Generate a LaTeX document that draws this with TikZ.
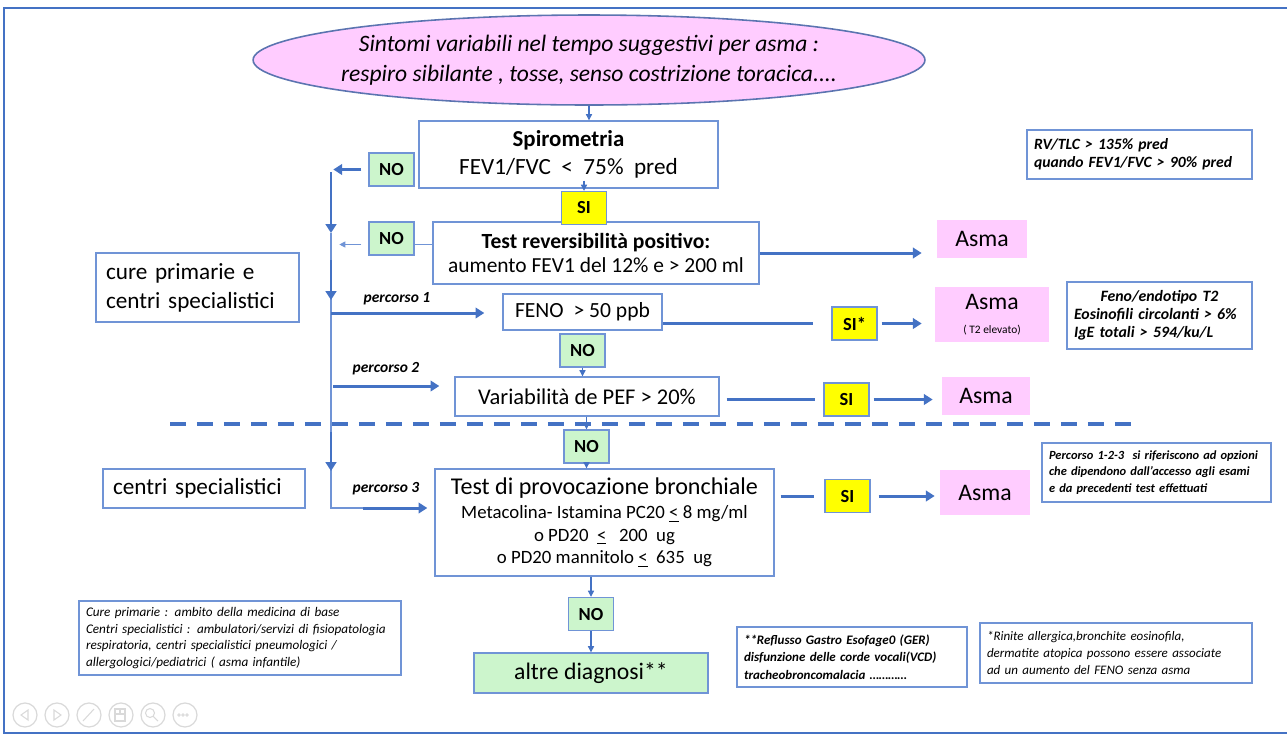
\documentclass[tikz,border=0pt]{standalone}
\usepackage{fontspec}
\setmainfont{Carlito}
\usetikzlibrary{arrows.meta,shapes.geometric,positioning}
\definecolor{lineblue}{HTML}{4472C4}
\definecolor{boxblue}{HTML}{7094D6}
\definecolor{ellblue}{HTML}{5B74B0}
\definecolor{nogreen}{HTML}{CCF5CC}
\definecolor{siyellow}{HTML}{FFFF00}
\definecolor{asmapink}{HTML}{FFCCFF}
\definecolor{icongray}{HTML}{D9D9D9}

\begin{document}
\begin{tikzpicture}[x=0.02cm, y=-0.02cm,
            box/.style={
                draw=boxblue, line width=0.8pt, fill=white, inner sep=0pt, align=center
            },
            smallbox/.style={
                box, minimum width=0.9cm, minimum height=0.66cm,
                font=\fontsize{10.5}{12}\selectfont\bfseries
            },
            nobox/.style={smallbox, fill=nogreen},
            sibox/.style={smallbox, fill=siyellow},
            asmabox/.style={
                fill=asmapink, inner sep=0pt, align=center,
                font=\fontsize{13.5}{16}\selectfont
            },
            sidebox/.style={
                box, align=left, inner xsep=0.2cm, font=\fontsize{13.2}{16.4}\selectfont
            },
            notebox/.style={
                box, align=left, inner xsep=0.14cm, font=\fontsize{7.5}{9.6}\selectfont\itshape
            },
            pathlabel/.style={font=\fontsize{8.8}{10}\selectfont\bfseries\itshape},
            bigarrow/.style={draw=lineblue, line width=1.7pt, -{Triangle[length=5pt,width=6pt]}},
            bigline/.style={draw=lineblue, line width=1.7pt},
            smallarrow/.style={draw=lineblue, line width=0.6pt, -{Triangle[length=3.5pt,width=3.5pt]}},
            railline/.style={draw=boxblue, line width=0.6pt}
            ]

            \pgfmathsetmacro{\railx}{331}

            \useasboundingbox (0,0) rectangle (1287,735);

            % slide frame
            \draw[lineblue, line width=1.6pt] (1287,8) -- (4,8) -- (4,733) -- (1287,733);

            \foreach \i in {0,...,5} {
                \draw[icongray, line width=0.7pt] (25+32*\i,715) circle (12);
            }
            \draw[icongray, line width=0.6pt] (28,710) -- (21,715) -- (28,720) -- cycle;
            \draw[icongray, line width=0.6pt] (54,710) -- (61,715) -- (54,720) -- cycle;
            \draw[icongray, line width=0.6pt] (83,721) -- (94,709);
            \draw[icongray, line width=0.6pt] (115,709) rectangle (125,721) (115,714) -- (125,714) (120,709) -- (120,714);
            \draw[icongray, line width=0.6pt] (150,713) circle (4.5) (153,716) -- (158,721);
            \foreach \d in {179,183,187} {
                \draw[icongray, line width=0.5pt] (\d,715) circle (1.3);
            }

            \draw[lineblue, line width=2.2pt, dash pattern=on 0.32cm off 0.22cm] (170,424) -- (1132,424);

            \node[ellipse, draw=ellblue, line width=0.9pt, fill=asmapink, inner xsep=-0.5cm, inner ysep=0pt,
                  minimum width=13.44cm, minimum height=1.8cm,
                  font=\itshape\fontsize{13.4}{17}\selectfont, align=center] (sintomi) at (589,60)
                {Sintomi variabili nel tempo suggestivi per asma :\\respiro sibilante , tosse, senso costrizione toracica....};

            \node[box, minimum width=5.98cm, minimum height=1.34cm] (spiro) at (568.5,154.5)
                {{\fontsize{13}{15}\selectfont\bfseries Spirometria}\\[4pt]
                 {\fontsize{13.2}{14}\selectfont FEV1/FVC~~<~~75\%~~pred}};
            \node[box, minimum width=6.52cm, minimum height=1.24cm] (test) at (596,253)
                {{\fontsize{12.3}{15}\selectfont\bfseries Test reversibilità positivo:}\\[2pt]
                 {\fontsize{12.2}{13}\selectfont aumento FEV1 del 12\% e > 200 ml}};
            \node[box, minimum width=3.18cm, minimum height=0.72cm, font=\fontsize{12.3}{14}\selectfont] (feno) at (582.5,312)
                {FENO~ > 50 ppb};
            \node[box, minimum width=5.28cm, minimum height=0.78cm, font=\fontsize{12.8}{16}\selectfont] (var) at (587,396.5)
                {Variabilità de PEF > 20\%};
            \node[box, minimum width=6.78cm, minimum height=2.14cm, font=\fontsize{10.7}{12.8}\selectfont] (prov) at (604.5,522.5)
                {{\fontsize{13.7}{16}\selectfont Test di provocazione bronchiale}\\[1pt]
                 Metacolina- Istamina PC20 \underline{<} 8 mg/ml\\
                 o PD20~ \underline{<} ~~200~ ug\\
                 o PD20 mannitolo \underline{<}~ 635~ ug};
            \node[box, fill=nogreen, minimum width=4.68cm, minimum height=0.8cm, font=\fontsize{13.5}{16}\selectfont] (altre) at (591,673)
                {altre diagnosi**};

            \node[nobox] (no1) at (391.5,169.5) {NO};
            \node[sibox] (si1) at (584,208) {SI};
            \node[nobox] (no2) at (391.5,238.5) {NO};
            \node[nobox] (no3) at (582.5,350.5) {NO};
            \node[nobox] (no4) at (586.5,446.5) {NO};
            \node[nobox] (no5) at (591,614) {NO};
            \node[sibox] (si2) at (854.5,323.5) {SI*};
            \node[sibox] (si3) at (846.5,399.5) {SI};
            \node[sibox] (si4) at (847.5,496) {SI};

            \node[asmabox, minimum width=1.8cm, minimum height=0.76cm] (asma1) at (982,239) {Asma};
            \node[asmabox, minimum width=2.28cm, minimum height=1.1cm] (asma2) at (992,314.5)
                {Asma\\[-2pt]{\fontsize{6.5}{8}\selectfont ( T2 elevato)}};
            \node[asmabox, minimum width=1.76cm, minimum height=0.76cm] (asma3) at (986,396) {Asma};
            \node[asmabox, minimum width=1.8cm, minimum height=0.9cm] (asma4) at (985,492.5) {Asma};

            \node[sidebox, text width=3.66cm, minimum height=1.38cm] (cpbox) at (197.5,287.5)
                {cure primarie e\\centri specialistici};
            \node[sidebox, text width=3.64cm, minimum height=0.78cm] (csbox) at (204,488.5)
                {centri specialistici};

            \node[notebox, font=\fontsize{8.9}{10.2}\selectfont\bfseries\itshape, text width=4.22cm, minimum height=0.98cm] (rvtlc) at (1139.5,154.5)
                {RV/TLC > 135\% pred\\quando FEV1/FVC > 90\% pred};
            \node[notebox, font=\fontsize{9}{10.2}\selectfont\bfseries\itshape, text width=3.42cm, minimum height=1.34cm] (fenonote) at (1159.5,315.5)
                {\makebox[\linewidth][c]{Feno/endotipo T2}\\Eosinofili circolanti > 6\%\\IgE totali > 594/ku/L};
            \node[notebox, font=\fontsize{7.1}{9.6}\selectfont\bfseries\itshape, text width=4.3cm, minimum height=1.18cm] (percnote) at (1156.5,472.5)
                {Percorso 1-2-3~ si riferiscono ad opzioni\\che dipendono dall’accesso agli esami\\e da precedenti test effettuati};
            \node[notebox, text width=6.16cm, minimum height=1.48cm] (curenote) at (240,638)
                {Cure primarie : ambito della medicina di base\\
                 Centri specialistici : ambulatori/servizi di fisiopatologia\\
                 respiratoria, centri specialistici pneumologici /\\
                 allergologici/pediatrici ( asma infantile)};
            \node[notebox, font=\fontsize{7.4}{10}\selectfont\bfseries\itshape, text width=4.32cm, minimum height=1.2cm] (gernote) at (852,657)
                {**Reflusso Gastro Esofage0 (GER)\\disfunzione delle corde vocali(VCD)\\tracheobroncomalacia …………};
            \node[notebox, font=\fontsize{7.4}{9.6}\selectfont\itshape, text width=5.16cm, minimum height=1.2cm] (rinnote) at (1116,653)
                {*Rinite allergica,bronchite eosinofila,\\dermatite atopica possono essere associate\\ad un aumento del FENO senza asma};

            \node[pathlabel] (lab1) at (397,299) {percorso 1};
            \node[pathlabel] (lab2) at (386,369) {percorso 2};
            \node[pathlabel] (lab3) at (386,489) {percorso 3};

            \draw[smallarrow] (sintomi.south) -- (sintomi.south |- spiro.north);
            \draw[smallarrow] ([yshift=0.16cm]spiro.south -| si1.north) -- (si1.north);
            \draw[smallarrow] (no3.south) -- (no3.south |- var.north);
            \draw[smallarrow] (var.south -| no4.north) -- (no4.north);
            \draw[smallarrow] (no4.south) -- (no4.south |- prov.north);
            \draw[smallarrow] (prov.south -| no5.north) -- (no5.north);
            \draw[smallarrow] (no5.south) -- (no5.south |- altre.north);

            % left rail
            \coordinate (r0) at (\railx,172);
            \coordinate (r1) at (\railx,233);
            \coordinate (r2) at (\railx,260);
            \coordinate (r3) at (\railx,300);
            \coordinate (r4) at (\railx,432);
            \coordinate (r5) at (\railx,471);
            \coordinate (rend) at (\railx,508);
            \coordinate (p1) at (\railx,313);
            \coordinate (p2) at (\railx+2,386);
            \coordinate (p3) at (363,508);

            \draw[railline] (r1) -- (rend) -- (p3);
            \draw[bigarrow] (r0) -- (r1);
            \draw[bigarrow] (r2) -- (r3);
            \draw[bigarrow] (r4) -- (r5);
            \draw[bigarrow] ([xshift=-0.14cm]no1.west) -- ([xshift=-0.7cm]no1.west);
            \draw[railline] ([yshift=-0.12cm]no2.east) -- ([yshift=-0.12cm]no2.east -| test.west);
            \draw[smallarrow, draw=boxblue] ([shift={(-0.14cm,-0.12cm)}]no2.west) -- ([shift={(-0.58cm,-0.12cm)}]no2.west);
            \draw[bigarrow] (p1) -- ([xshift=-0.36cm]p1 -| feno.west);
            \draw[bigarrow] (p2) -- ([xshift=-0.3cm]p2 -| var.west);
            \draw[bigarrow] (p3) -- ([xshift=-0.14cm]p3 -| prov.west);

            % towards Asma
            \draw[bigarrow] (test.east) -- ([xshift=-0.3cm]test.east -| asma1.west);
            \draw[bigline] (feno.east |- si2) -- ([xshift=-0.36cm]si2.west);
            \draw[bigarrow] ([xshift=0.08cm]si2.east) -- ([xshift=-0.26cm]si2.east -| asma2.west);
            \draw[bigline] ([xshift=0.14cm]var.east |- si3) -- ([xshift=-0.16cm]si3.west);
            \draw[bigarrow] ([xshift=0.08cm]si3.east) -- ([xshift=-0.18cm]si3.east -| asma3.west);
            \draw[bigline] ([xshift=0.12cm]prov.east |- si4) -- ([xshift=-0.2cm]si4.west);
            \draw[bigarrow] ([xshift=0.16cm]si4.east) -- ([xshift=-0.1cm]si4.east -| asma4.west);

        \end{tikzpicture}
\end{document}
